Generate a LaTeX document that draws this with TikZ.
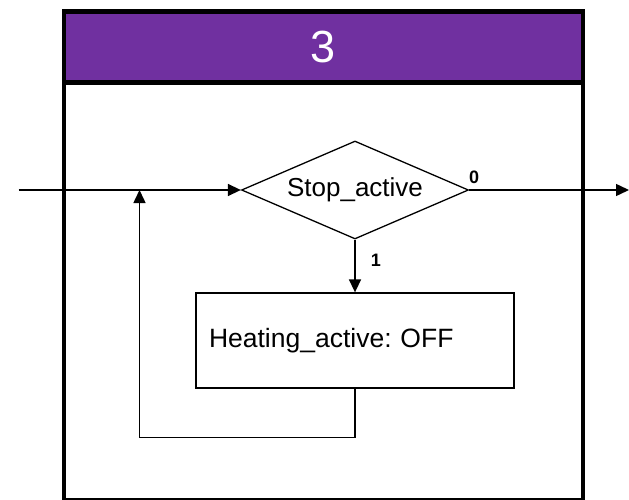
\documentclass[tikz,border=0pt]{standalone}
\usepackage{fontspec}
\setmainfont{Liberation Sans}
\frenchspacing
\usetikzlibrary{arrows.meta,positioning,shapes.geometric,calc}
\definecolor{blockpurple}{RGB}{112,48,160}
\tikzset{
  frame/.style={line width=4.5pt,line join=miter},
  flow/.style={line width=1.5pt,-{Triangle[length=13pt,width=12pt]}},
  decision/.style={diamond,draw,line width=1.3pt,aspect=2.316,minimum width=227pt,minimum height=98pt,inner sep=0pt,font=\fontsize{26}{29}\selectfont},
  action/.style={rectangle,draw,line width=1.3pt,minimum width=318pt,minimum height=95pt,text width=292pt,inner xsep=13pt,align=left,font=\fontsize{26.5}{29}\selectfont},
  branch/.style={font=\fontsize{18}{20}\selectfont\bfseries}
}
\begin{document}
\begin{tikzpicture}[x=1pt,y=-1pt]
		\useasboundingbox (0,0) rectangle (629,500);
		% block frame with header
		\fill[blockpurple] (64,11.7) rectangle (583,82.5);
		\draw[frame] (64,11.7) rectangle (583,500.5);
		\draw[frame] (64,82.5) -- (583,82.5);
		\node[text=white,font=\fontsize{45}{50}\selectfont] (num) at (323.5,47) {3};
		% flow
		\node[decision] (stop) at (355,190) {Stop\_active};
		\node[action] (heat) at (355,340.5) {Heating\_active: OFF};
		\coordinate (in) at (18.5,190);
		\coordinate (out) at (629,190);
		\coordinate (loop) at (139.5,437.3);
		\coordinate (join) at (139.5,190);
		\draw[flow] (in) -- (stop.west);
		\draw[flow] (stop.east) -- (out);
		\draw[flow] (stop.south) -- (heat.north);
		\draw[flow] (heat.south) |- (loop) -- (join);
		\node[branch] (zero) at (474,177) {0};
		\node[branch] (one) at (376,260) {1};
\end{tikzpicture}
\end{document}
